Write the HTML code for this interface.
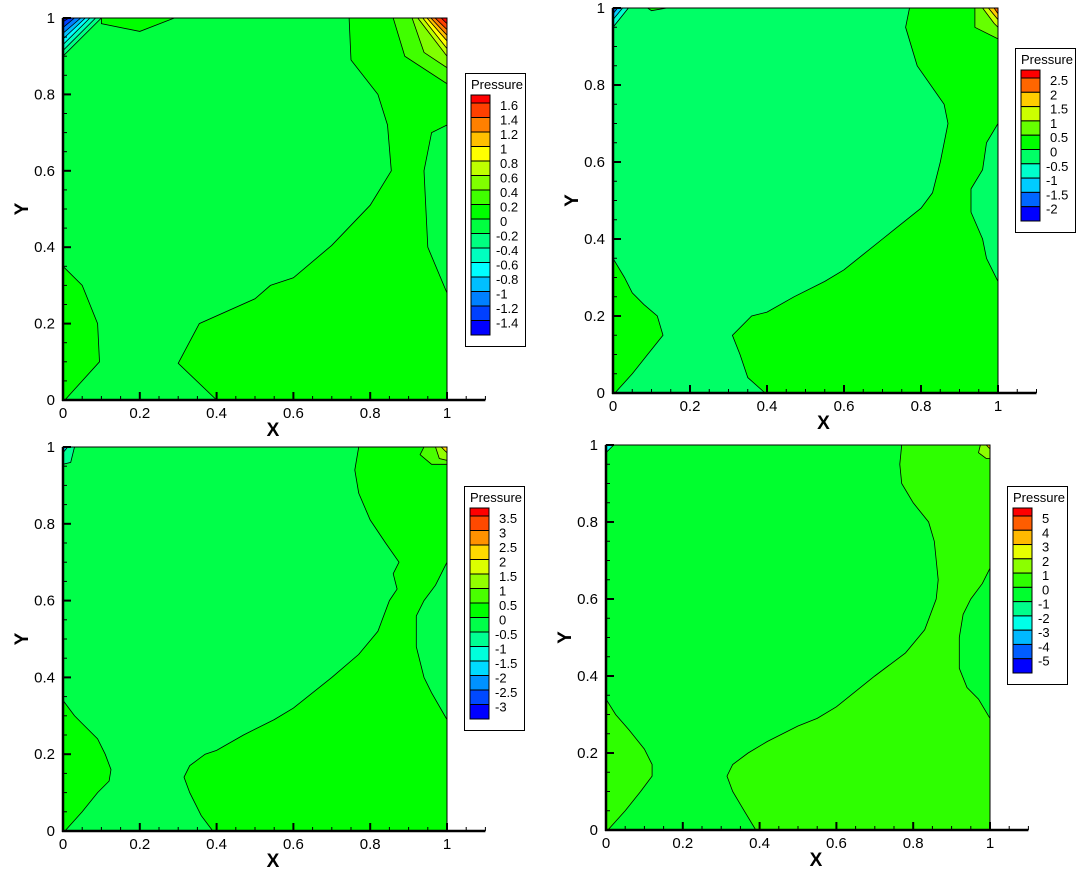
<!DOCTYPE html>
<html><head><meta charset="utf-8">
<style>
html,body{margin:0;padding:0;background:#fff;}
svg{display:block;font-family:"Liberation Sans",Arial,sans-serif;}
</style></head>
<body>
<svg id="fig" width="1090" height="872" viewBox="0 0 1090 872" xmlns="http://www.w3.org/2000/svg"></svg>
<script>
// ---------- data ----------
const xTicks = [0, 0.2, 0.4, 0.6, 0.8, 1];
const yTicks = [0, 0.2, 0.4, 0.6, 0.8, 1];
const tickLabels = ["0", "0.2", "0.4", "0.6", "0.8", "1"];

const p1Levels = ["1.6","1.4","1.2","1","0.8","0.6","0.4","0.2","0","-0.2","-0.4","-0.6","-0.8","-1","-1.2","-1.4"];
const p2Levels = ["2.5","2","1.5","1","0.5","0","-0.5","-1","-1.5","-2"];
const p3Levels = ["3.5","3","2.5","2","1.5","1","0.5","0","-0.5","-1","-1.5","-2","-2.5","-3"];
const p4Levels = ["5","4","3","2","1","0","-1","-2","-3","-4","-5"];

const p1Base = 9;
const p1Regions = [
 {band:8, pts:[[0.4,0],[0.3,0.096],[0.355,0.2],[0.5,0.265],[0.54,0.3],[0.6,0.32],[0.7,0.405],[0.8,0.51],[0.855,0.6],[0.845,0.72],[0.82,0.8],[0.75,0.89],[0.745,1],[1,1],[1,0]]},
 {band:9, pts:[[1,0.72],[0.96,0.7],[0.94,0.6],[0.95,0.4],[1,0.28]]},
 {band:8, pts:[[0,0.35],[0.05,0.3],[0.09,0.2],[0.095,0.1],[0.005,0],[0,0]]},
 {band:8, pts:[[0.1,1],[0.1,0.985],[0.2,0.965],[0.29,1]]},
 {band:7, pts:[[0.86,1],[0.89,0.9],[1,0.828],[1,1]]},
 {band:6, pts:[[0.909,1],[0.94,0.91],[1,0.87],[1,1]]},
 {band:5, pts:[[0.924,1],[1,0.9],[1,1]]},
 {band:4, pts:[[0.937,1],[1,0.92],[1,1]]},
 {band:3, pts:[[0.948,1],[1,0.94],[1,1]]},
 {band:2, pts:[[0.958,1],[1,0.955],[1,1]]},
 {band:1, pts:[[0.969,1],[1,0.97],[1,1]]},
 {band:0, pts:[[0.985,1],[1,0.985],[1,1]]},
 {band:10, pts:[[0.1,1],[0,0.9],[0,1]]},
 {band:11, pts:[[0.085,1],[0,0.915],[0,1]]},
 {band:12, pts:[[0.07,1],[0,0.93],[0,1]]},
 {band:13, pts:[[0.058,1],[0,0.945],[0,1]]},
 {band:14, pts:[[0.046,1],[0,0.96],[0,1]]},
 {band:15, pts:[[0.03,1],[0,0.975],[0,1]]},
 {band:16, pts:[[0.015,1],[0,0.99],[0,1]]}
];

const p2Base = 6;
const p2Regions = [
 {band:5, pts:[[0.395,0],[0.35,0.04],[0.33,0.1],[0.31,0.15],[0.36,0.2],[0.4,0.21],[0.47,0.25],[0.55,0.29],[0.6,0.32],[0.7,0.4],[0.8,0.48],[0.83,0.52],[0.85,0.6],[0.87,0.7],[0.86,0.75],[0.79,0.85],[0.76,0.95],[0.77,1],[1,1],[1,0]]},
 {band:6, pts:[[1,0.7],[0.97,0.65],[0.96,0.58],[0.93,0.53],[0.93,0.47],[0.96,0.4],[0.97,0.35],[1,0.29]]},
 {band:5, pts:[[0,0.35],[0.03,0.3],[0.05,0.26],[0.08,0.23],[0.115,0.2],[0.13,0.15],[0.09,0.1],[0.05,0.05],[0.005,0],[0,0]]},
 {band:5, pts:[[0.09,1],[0.1,0.993],[0.14,1]]},
 {band:4, pts:[[0.94,1],[0.94,0.95],[1,0.92],[1,1]]},
 {band:3, pts:[[0.96,1],[0.99,0.96],[1,0.95],[1,1]]},
 {band:2, pts:[[0.975,1],[1,0.97],[1,1]]},
 {band:1, pts:[[0.99,1],[1,0.985],[1,1]]},
 {band:7, pts:[[0.04,1],[0,0.95],[0,1]]},
 {band:8, pts:[[0.025,1],[0,0.97],[0,1]]},
 {band:9, pts:[[0.012,1],[0,0.985],[0,1]]}
];

const p3Base = 8;
const p3Regions = [
 {band:7, pts:[[0.39,0],[0.36,0.04],[0.33,0.1],[0.315,0.14],[0.33,0.17],[0.37,0.2],[0.4,0.21],[0.47,0.25],[0.55,0.29],[0.6,0.32],[0.7,0.4],[0.77,0.46],[0.82,0.52],[0.85,0.6],[0.87,0.63],[0.86,0.67],[0.875,0.7],[0.84,0.75],[0.8,0.81],[0.77,0.88],[0.76,0.94],[0.77,1],[1,1],[1,0]]},
 {band:8, pts:[[1,0.7],[0.97,0.64],[0.94,0.6],[0.92,0.56],[0.92,0.48],[0.94,0.4],[0.96,0.36],[1,0.29]]},
 {band:7, pts:[[0,0.34],[0.03,0.3],[0.05,0.28],[0.09,0.24],[0.11,0.2],[0.125,0.16],[0.12,0.13],[0.09,0.1],[0.05,0.05],[0.005,0],[0,0]]},
 {band:6, pts:[[0.94,1],[0.93,0.98],[0.96,0.955],[1,0.955],[1,1]]},
 {band:5, pts:[[0.97,1],[0.98,0.97],[1,0.965],[1,1]]},
 {band:3, pts:[[0.985,1],[1,0.985],[1,1]]},
 {band:9, pts:[[0.03,1],[0.02,0.96],[0,0.955],[0,1]]},
 {band:11, pts:[[0.012,1],[0,0.985],[0,1]]}
];

const p4Base = 6;
const p4Regions = [
 {band:5, pts:[[0.39,0],[0.36,0.05],[0.33,0.1],[0.315,0.14],[0.33,0.17],[0.37,0.2],[0.42,0.23],[0.5,0.27],[0.55,0.29],[0.6,0.32],[0.7,0.4],[0.78,0.46],[0.83,0.52],[0.86,0.6],[0.865,0.65],[0.855,0.75],[0.84,0.8],[0.8,0.85],[0.77,0.9],[0.765,0.95],[0.77,1],[1,1],[1,0]]},
 {band:6, pts:[[1,0.68],[0.98,0.64],[0.95,0.6],[0.93,0.56],[0.92,0.5],[0.92,0.42],[0.94,0.37],[0.97,0.34],[1,0.29]]},
 {band:5, pts:[[0,0.34],[0.025,0.3],[0.06,0.26],[0.1,0.21],[0.12,0.17],[0.12,0.14],[0.09,0.1],[0.05,0.05],[0.005,0],[0,0]]},
 {band:4, pts:[[0.975,1],[0.97,0.98],[0.99,0.965],[1,0.965],[1,1]]},
 {band:2, pts:[[0.99,1],[1,0.99],[1,1]]},
 {band:8, pts:[[0.02,1],[0,0.98],[0,1]]}
];

// ---------- layout (pixels) ----------
const panels = [
 {name:"panel-1", levels:p1Levels, base:p1Base, regions:p1Regions, x0:63, x1:447, yT:18, yB:400, lx:465, ly:73, lw:60, lh:273},
 {name:"panel-2", levels:p2Levels, base:p2Base, regions:p2Regions, x0:613, x1:998, yT:8, yB:393, lx:1015, ly:48, lw:60, lh:184},
 {name:"panel-3", levels:p3Levels, base:p3Base, regions:p3Regions, x0:63, x1:447, yT:447, yB:831, lx:464, ly:486, lw:60, lh:244},
 {name:"panel-4", levels:p4Levels, base:p4Base, regions:p4Regions, x0:606, x1:990, yT:445, yB:830, lx:1007, ly:486, lw:60, lh:198}
];

const NS = "http://www.w3.org/2000/svg";
const svg = document.getElementById("fig");
function mk(tag, attrs, parent){
  const e = document.createElementNS(NS, tag);
  for (const k in attrs) e.setAttribute(k, attrs[k]);
  parent.appendChild(e);
  return e;
}
function bandColor(i, n){
  const h = 240 * i / (n - 1);
  return "hsl(" + h + ",100%,50%)";
}

panels.forEach(p => {
  const g = mk("g", {}, svg);
  
  
  const nb = p.levels.length + 1;
  const sx = v => p.x0 + v * (p.x1 - p.x0);
  const sy = v => p.yB - v * (p.yB - p.yT);

  const bg = mk("rect", {x:p.x0, y:p.yT, width:p.x1-p.x0, height:p.yB-p.yT, fill:bandColor(p.base, nb)}, g);
  
  

  p.regions.forEach(r => {
    const pts = r.pts.map(q => sx(q[0]).toFixed(1) + "," + sy(q[1]).toFixed(1)).join(" ");
    const poly = mk("polygon", {points:pts, fill:bandColor(r.band, nb), stroke:"#000", "stroke-width":0.8}, g);
    
    
  });

  const fr = mk("rect", {x:p.x0, y:p.yT, width:p.x1-p.x0, height:p.yB-p.yT, fill:"none", stroke:"#000", "stroke-width":1}, g);
  
  

  const xa = mk("line", {x1:p.x0-1, y1:p.yB, x2:sx(1.1), y2:p.yB, stroke:"#000", "stroke-width":2.5}, g);
  
  
  const ya = mk("line", {x1:p.x0, y1:p.yB+1, x2:p.x0, y2:p.yT, stroke:"#000", "stroke-width":2.5}, g);
  
  

  for (let k = 0; k <= 22; k++) {
    const v = k * 0.05;
    const major = k % 4 === 0;
    const L = major ? 8 : 4;
    const t = mk("line", {x1:sx(v), y1:p.yB, x2:sx(v), y2:p.yB-L, stroke:"#000", "stroke-width":major?2:1}, g);
    
    
    if (k <= 20) {
      const ty = mk("line", {x1:p.x0, y1:sy(v), x2:p.x0+L, y2:sy(v), stroke:"#000", "stroke-width":major?2:1}, g);
      
      
    }
  }
  xTicks.forEach((v, i) => {
    const t = mk("text", {x:sx(v), y:p.yB+18, "font-size":15, "text-anchor":"middle", fill:"#000"}, g);
    
    
    t.textContent = tickLabels[i];
  });
  yTicks.forEach((v, i) => {
    const t = mk("text", {x:p.x0-8, y:sy(v)+5, "font-size":15, "text-anchor":"end", fill:"#000"}, g);
    
    
    t.textContent = tickLabels[i];
  });
  const xt = mk("text", {x:(p.x0+p.x1)/2 + 18, y:p.yB+36, "font-size":19, "font-weight":"bold", "text-anchor":"middle"}, g);
  
  
  xt.textContent = "X";
  const ycx = p.x0 - 35, ycy = (p.yT + p.yB) / 2;
  const yt = mk("text", {x:ycx, y:ycy, "font-size":19, "font-weight":"bold", "text-anchor":"middle", transform:"rotate(-90 "+ycx+" "+ycy+")"}, g);
  
  
  yt.textContent = "Y";

  const lg = mk("g", {}, g);
  
  
  const box = mk("rect", {x:p.lx+0.5, y:p.ly+0.5, width:p.lw, height:p.lh, fill:"#fff", stroke:"#000", "stroke-width":1}, lg);
  
  
  const ttl = mk("text", {x:p.lx+6, y:p.ly+16, "font-size":13}, lg);
  
  
  ttl.textContent = "Pressure";
  const barTop = p.ly + 22, barBot = p.ly + p.lh - 11;
  const bx = p.lx + 6, bw = 19;
  const b = (barBot - barTop - 8) / (nb - 1);
  for (let i = 0; i < nb; i++) {
    const y0 = i === 0 ? barTop : barTop + 8 + (i - 1) * b;
    const h = i === 0 ? 8 : b;
    const r = mk("rect", {x:bx, y:y0, width:bw, height:h, fill:bandColor(i, nb), stroke:"#000", "stroke-width":1}, lg);
    
    
  }
  p.levels.forEach((lab, i) => {
    const yb = barTop + 8 + i * b;
    const t = mk("text", {x:bx+bw+(lab[0]==="-"?6:10), y:yb+7, "font-size":13}, lg);
    
    
    t.textContent = lab;
  });
});
</script>
</body></html>
